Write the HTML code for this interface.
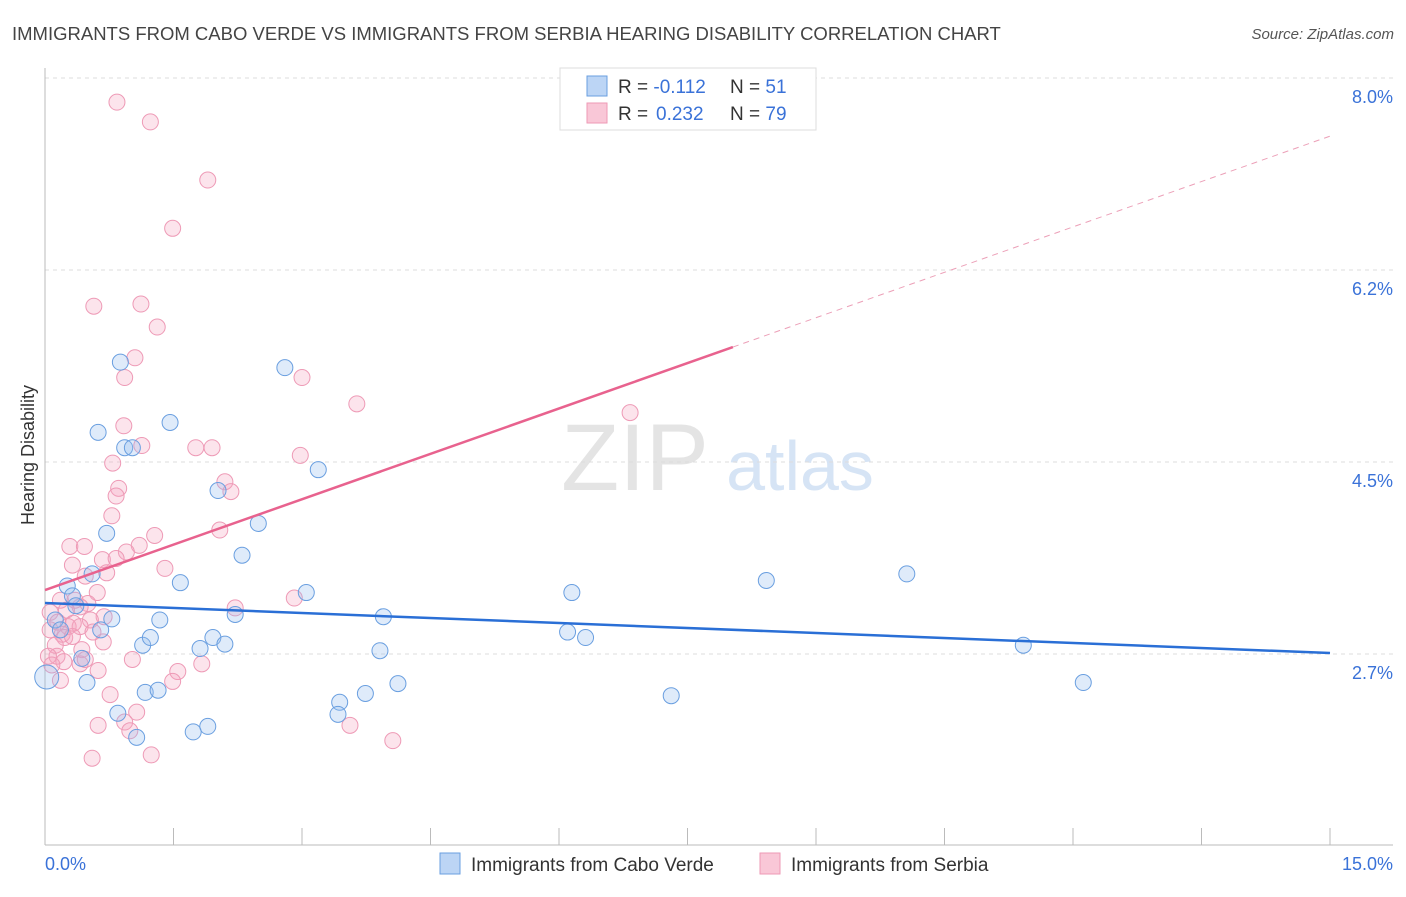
<!DOCTYPE html>
<html><head><meta charset="utf-8"><style>
body{margin:0;background:#fff;font-family:"Liberation Sans",sans-serif}
svg text{font-family:"Liberation Sans",sans-serif}
</style></head><body>
<svg id="c" width="1406" height="892" xmlns="http://www.w3.org/2000/svg">
<text x="12" y="40" font-size="18.5" fill="#444">IMMIGRANTS FROM CABO VERDE VS IMMIGRANTS FROM SERBIA HEARING DISABILITY CORRELATION CHART</text>
<text x="1394" y="39" font-size="15" fill="#555" font-style="italic" text-anchor="end">Source: ZipAtlas.com</text>
<text transform="translate(34,455) rotate(-90)" font-size="18" fill="#333" text-anchor="middle">Hearing Disability</text>
<g><text x="635" y="490" font-size="95" fill="#e4e4e4" text-anchor="middle" font-family="Liberation Serif">ZIP</text><text x="800" y="490" font-size="70" fill="#d6e4f5" text-anchor="middle">atlas</text></g>
<g id="grid"></g><g id="axes"></g><g id="pts"></g><g id="lines"></g>
<g>
<rect x="560" y="68" width="256" height="62" fill="#fff" stroke="#ddd"/>
<rect x="587" y="76" width="20" height="20" fill="#bcd5f5" stroke="#6a9fe0"/>
<rect x="587" y="103" width="20" height="20" fill="#f9c7d7" stroke="#ee9ab6"/>
<text x="618" y="93" font-size="19" fill="#333">R = <tspan fill="#3a72d8">-0.112</tspan><tspan x="730">N = </tspan><tspan fill="#3a72d8">51</tspan></text>
<text x="618" y="120" font-size="19" fill="#333">R = <tspan x="656" fill="#3a72d8">0.232</tspan><tspan x="730">N = </tspan><tspan fill="#3a72d8">79</tspan></text>
</g>
<g>
<rect x="440" y="853" width="20" height="21" fill="#bcd5f5" stroke="#6a9fe0"/>
<text x="471" y="871" font-size="19" fill="#333">Immigrants from Cabo Verde</text>
<rect x="760" y="853" width="20" height="21" fill="#f9c7d7" stroke="#ee9ab6"/>
<text x="791" y="871" font-size="19" fill="#333">Immigrants from Serbia</text>
</g>
</svg>
<script>
const yTicks=[8.0,6.25,4.5,2.75];
const yTickLabels=["8.0%","6.2%","4.5%","2.7%"];
const blueX=[0.02,0.26,0.32,0.36,0.43,0.49,0.55,0.62,0.65,0.72,0.78,0.88,0.85,0.93,1.02,1.07,1.14,1.17,1.23,1.32,1.34,1.46,1.58,1.73,1.81,1.90,1.96,2.02,2.10,2.22,2.30,2.49,2.80,3.05,3.19,3.44,3.42,3.74,3.91,3.95,4.12,6.10,6.15,6.31,7.31,8.42,10.06,11.42,12.12,0.12,0.18];
const blueY=[2.54,3.37,3.28,3.19,2.71,2.49,3.48,4.77,2.97,3.85,3.07,5.41,2.21,4.63,4.63,1.99,2.83,2.40,2.90,2.42,3.06,4.86,3.40,2.04,2.80,2.09,2.90,4.24,2.84,3.11,3.65,3.94,5.36,3.31,4.43,2.31,2.20,2.39,2.78,3.09,2.48,2.95,3.31,2.90,2.37,3.42,3.48,2.83,2.49,3.06,2.97];
const pinkX=[0.84,1.23,1.90,1.49,0.57,1.12,1.31,1.05,0.93,3.00,3.64,6.83,0.92,1.13,1.76,1.95,0.79,2.98,2.10,0.86,2.17,0.83,0.78,2.04,1.28,0.29,0.46,1.10,0.95,0.67,0.83,0.32,1.40,0.47,0.72,0.61,0.18,0.50,0.41,2.22,2.91,0.06,0.69,0.15,0.53,0.27,0.41,0.06,0.20,0.23,0.32,0.68,0.12,0.43,0.14,0.04,0.22,0.41,0.62,1.02,1.55,1.83,1.49,0.76,0.08,1.07,0.62,0.93,0.99,3.56,4.06,0.55,1.24,0.35,0.47,0.18,0.25,0.33,0.56];
const pinkY=[7.78,7.60,7.07,6.63,5.92,5.94,5.73,5.45,5.27,5.27,5.03,4.95,4.83,4.65,4.63,4.63,4.49,4.56,4.32,4.26,4.23,4.19,4.01,3.88,3.83,3.73,3.73,3.74,3.68,3.61,3.62,3.56,3.53,3.46,3.49,3.31,3.24,3.21,3.18,3.17,3.26,3.13,3.09,3.04,3.06,3.00,3.00,2.97,2.93,2.90,2.91,2.86,2.83,2.79,2.73,2.73,2.68,2.66,2.60,2.70,2.59,2.66,2.50,2.38,2.65,2.22,2.10,2.13,2.05,2.10,1.96,1.80,1.83,3.24,2.70,2.51,3.15,3.03,2.95];
const blueLine=[3.215,2.759];
const pinkLine=[3.333,7.47];
const pinkSolidEnd=8.03;
const X0=45,X1=1330,Y0=78;
const sx=v=>X0+v*(X1-X0)/15;
const sy=v=>Y0+(8-v)*192/1.75;
const NS="http://www.w3.org/2000/svg";
function mk(p,t,a){const e=document.createElementNS(NS,t);for(const k in a)e.setAttribute(k,a[k]);p.appendChild(e);return e;}
const grid=document.getElementById('grid'),axes=document.getElementById('axes'),pts=document.getElementById('pts'),lines=document.getElementById('lines');
yTicks.forEach((t,i)=>{
 const l=mk(grid,'line',{x1:X0,x2:1393,y1:sy(t),y2:sy(t),stroke:'#ddd','stroke-dasharray':'4,4'});
 
 
 const tx=mk(grid,'text',{x:1393,y:sy(t)+25,'font-size':18,fill:'#3a72d8','text-anchor':'end'});
 tx.textContent=yTickLabels[i];
 
 
});
mk(axes,'line',{x1:X0,x2:X0,y1:68,y2:845,stroke:'#bbb'});
mk(axes,'line',{x1:X0,x2:1393,y1:845,y2:845,stroke:'#bbb'});
for(let k=0;k<=10;k++){const x=sx(k*1.5);mk(axes,'line',{x1:x,x2:x,y1:828,y2:845,stroke:'#bbb'});}
const xl=mk(axes,'text',{x:45,y:870,'font-size':18,fill:'#3a72d8'});xl.textContent='0.0%';


const xr=mk(axes,'text',{x:1393,y:870,'font-size':18,fill:'#3a72d8','text-anchor':'end'});xr.textContent='15.0%';


pinkX.forEach((x,i)=>{
 const c=mk(pts,'circle',{cx:sx(x),cy:sy(pinkY[i]),r:8,fill:'rgba(245,165,192,0.3)',stroke:'#ee9ab6','stroke-width':1});
 
 
});
blueX.forEach((x,i)=>{
 const c=mk(pts,'circle',{cx:sx(x),cy:sy(blueY[i]),r:i===0?12:8,fill:'rgba(150,190,240,0.3)',stroke:'#6a9fe0','stroke-width':1});
 
 
});
const bl=mk(lines,'line',{x1:sx(0),y1:sy(blueLine[0]),x2:sx(15),y2:sy(blueLine[1]),stroke:'#2a6fd6','stroke-width':2.5});


const py=x=>pinkLine[0]+(pinkLine[1]-pinkLine[0])*x/15;
const pl=mk(lines,'line',{x1:sx(0),y1:sy(py(0)),x2:sx(pinkSolidEnd),y2:sy(py(pinkSolidEnd)),stroke:'#e8628e','stroke-width':2.5});


const pd=mk(lines,'line',{x1:sx(pinkSolidEnd),y1:sy(py(pinkSolidEnd)),x2:sx(15),y2:sy(py(15)),stroke:'#eca0b8','stroke-width':1,'stroke-dasharray':'6,5'});


</script>
</body></html>
